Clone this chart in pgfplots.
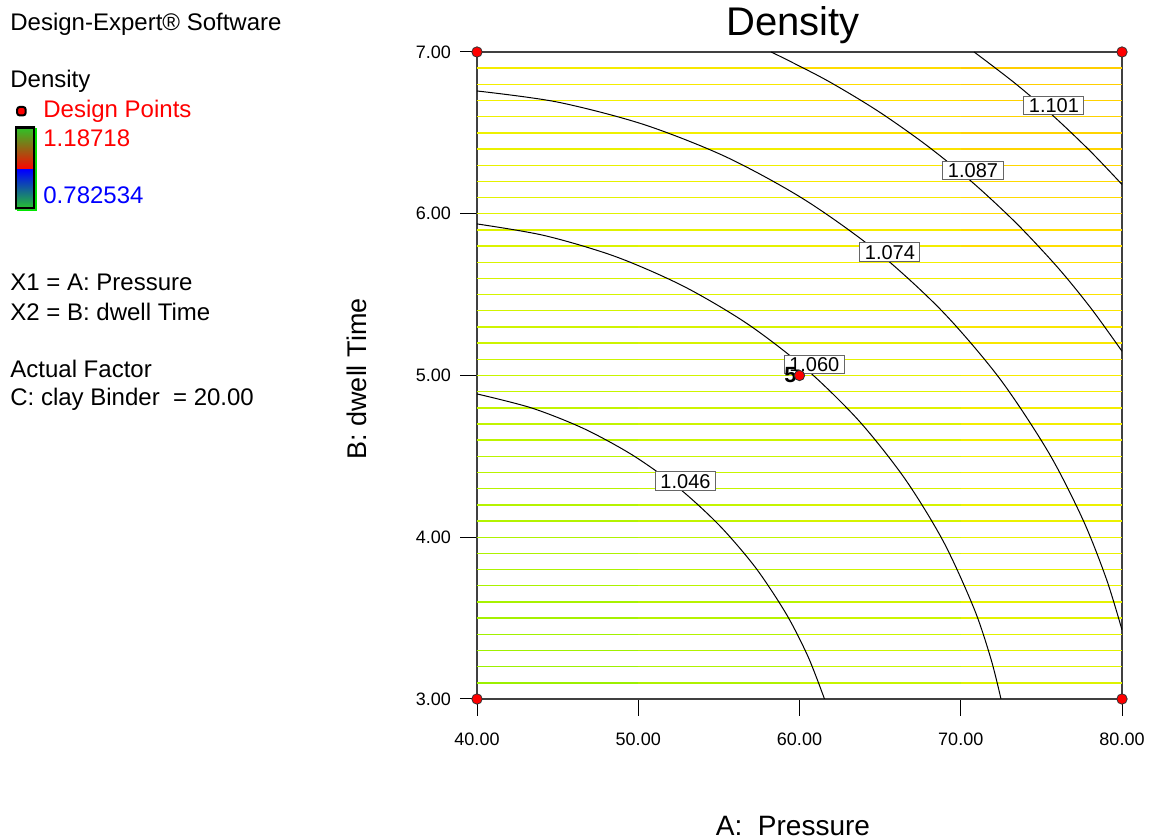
\documentclass[border=0pt]{standalone}
\usepackage{fontspec}
\setmainfont{Liberation Sans}
\usepackage{pgfplots}
\pgfplotsset{compat=1.18}
\definecolor{cbgreen}{RGB}{40,200,40}
\definecolor{cbbrown}{RGB}{150,100,10}
\definecolor{cbteal}{RGB}{0,130,150}
\definecolor{cbshadow}{RGB}{0,230,0}
\tikzset{lbl/.style={draw=black!60, fill=white, line width=0.5pt, font=\fontsize{10}{12}\selectfont, inner xsep=2.5pt, inner ysep=1pt, text height=7.3pt, text depth=0pt}}
\newcommand\hl[6]{\addplot[hl] coordinates {(40,#1)[#2] (50,#1)[#3] (60,#1)[#4] (70,#1)[#5] (80,#1)[#6]};}
\begin{document}
\begin{tikzpicture}
\useasboundingbox (0,0) rectangle (575.5pt,419.5pt);
\begin{axis}[
  at={(238.5pt,70pt)}, anchor=south west,
  scale only axis, width=322.5pt, height=323.5pt,
  xmin=40, xmax=80, ymin=3, ymax=7,
  xtick={40,50,60,70,80}, ytick={3,4,5,6,7},
  tick align=outside, xtick pos=bottom, ytick pos=left,
  major tick length=8.5pt,
  tick style={black, line width=0.5pt},
  axis line style={black!75, line width=0.6pt},
  /pgf/number format/fixed, /pgf/number format/zerofill,
  /pgf/number format/precision=2, /pgf/number format/assume math mode=true,
  ticklabel style={font=\fontsize{9}{10}\selectfont},
  yticklabel style={xshift=-1pt},
  xticklabel style={yshift=-5pt},
  colormap={dens}{rgb255(0pt)=(140,235,0); rgb255(5pt)=(150,240,0); rgb255(30pt)=(200,245,0); rgb255(55pt)=(242,240,0); rgb255(70pt)=(255,222,0); rgb255(95pt)=(255,195,0)},
  point meta min=1.02, point meta max=1.115,
  hl/.style={mesh, point meta=explicit, line width=0.7pt, forget plot},
  ct/.style={black, line width=0.5pt, smooth, forget plot},
]
\hl{3.1}{1.025}{1.030}{1.044}{1.053}{1.071}
\hl{3.2}{1.026}{1.031}{1.045}{1.054}{1.072}
\hl{3.3}{1.027}{1.032}{1.046}{1.055}{1.073}
\hl{3.4}{1.028}{1.033}{1.046}{1.056}{1.074}
\hl{3.5}{1.030}{1.035}{1.047}{1.057}{1.074}
\hl{3.6}{1.031}{1.036}{1.048}{1.058}{1.075}
\hl{3.7}{1.032}{1.037}{1.049}{1.059}{1.076}
\hl{3.8}{1.033}{1.038}{1.050}{1.060}{1.077}
\hl{3.9}{1.034}{1.039}{1.050}{1.061}{1.078}
\hl{4.0}{1.035}{1.040}{1.051}{1.062}{1.079}
\hl{4.1}{1.037}{1.042}{1.052}{1.063}{1.079}
\hl{4.2}{1.038}{1.043}{1.053}{1.064}{1.080}
\hl{4.3}{1.039}{1.044}{1.053}{1.065}{1.081}
\hl{4.4}{1.040}{1.045}{1.054}{1.066}{1.082}
\hl{4.5}{1.041}{1.046}{1.055}{1.067}{1.083}
\hl{4.6}{1.042}{1.047}{1.056}{1.068}{1.084}
\hl{4.7}{1.044}{1.049}{1.057}{1.069}{1.084}
\hl{4.8}{1.045}{1.050}{1.057}{1.070}{1.085}
\hl{4.9}{1.046}{1.051}{1.058}{1.071}{1.086}
\hl{5.0}{1.047}{1.052}{1.059}{1.072}{1.087}
\hl{5.1}{1.049}{1.053}{1.060}{1.073}{1.088}
\hl{5.2}{1.050}{1.055}{1.062}{1.075}{1.090}
\hl{5.3}{1.052}{1.056}{1.063}{1.076}{1.091}
\hl{5.4}{1.053}{1.058}{1.065}{1.077}{1.092}
\hl{5.5}{1.055}{1.059}{1.066}{1.079}{1.093}
\hl{5.6}{1.056}{1.061}{1.068}{1.080}{1.095}
\hl{5.7}{1.058}{1.062}{1.069}{1.082}{1.096}
\hl{5.8}{1.060}{1.063}{1.070}{1.083}{1.097}
\hl{5.9}{1.061}{1.065}{1.072}{1.084}{1.098}
\hl{6.0}{1.063}{1.066}{1.073}{1.086}{1.100}
\hl{6.1}{1.064}{1.068}{1.075}{1.087}{1.101}
\hl{6.2}{1.066}{1.069}{1.076}{1.088}{1.102}
\hl{6.3}{1.068}{1.070}{1.077}{1.090}{1.103}
\hl{6.4}{1.069}{1.072}{1.079}{1.091}{1.105}
\hl{6.5}{1.071}{1.073}{1.080}{1.093}{1.106}
\hl{6.6}{1.072}{1.075}{1.082}{1.094}{1.107}
\hl{6.7}{1.074}{1.076}{1.083}{1.095}{1.108}
\hl{6.8}{1.075}{1.078}{1.085}{1.097}{1.110}
\hl{6.9}{1.077}{1.079}{1.086}{1.098}{1.111}
% contours
\addplot[ct] coordinates {(40,4.886) (43.391,4.799) (46.614,4.672) (49.658,4.507) (52.478,4.307) (55.033,4.073) (57.283,3.811) (59.194,3.523) (60.543,3.259) (61.550,3.0)};
\addplot[ct] coordinates {(40,5.937) (44.192,5.865) (48.594,5.735) (52.803,5.552) (56.759,5.320) (60.401,5.041) (63.676,4.721) (66.533,4.362) (68.932,3.972) (70.836,3.556) (71.877,3.246) (72.496,3.0)};
\addplot[ct] coordinates {(40,6.759) (44.962,6.691) (50.301,6.553) (55.432,6.352) (60.278,6.089) (64.768,5.770) (68.834,5.399) (72.415,4.981) (75.459,4.522) (77.606,4.102) (79.049,3.737) (80,3.427)};
\addplot[ct] coordinates {(58.250,7.0) (61.597,6.830) (64.798,6.639) (67.857,6.425) (70.759,6.191) (73.490,5.937) (76.037,5.665) (78.104,5.412) (80,5.150)};
\addplot[ct] coordinates {(70.830,7.0) (73.359,6.807) (75.745,6.604) (78.020,6.388) (80,6.181)};
\node[lbl] at (axis cs:75.78,6.669) {1.101};
\node[lbl] at (axis cs:70.76,6.267) {1.087};
\node[lbl] at (axis cs:65.61,5.764) {1.074};
\node[lbl] at (axis cs:60.92,5.067) {1.060};
\node[lbl] at (axis cs:52.93,4.348) {1.046};
% design points
\addplot[only marks, mark=*, mark size=2.6pt, mark options={fill=red, draw=black!80, line width=0.4pt}] coordinates {(40,3) (40,7) (80,3) (80,7) (60,5)};
\node[anchor=base east, font=\bfseries\fontsize{11}{12}\selectfont, inner sep=0pt, xshift=-1.3pt, yshift=-3.4pt] at (axis cs:60,5) {5};
\end{axis}
% left panel
\node[anchor=base west, font=\fontsize{12}{14}\selectfont, inner sep=0pt] at (5pt,404.25pt) {Design-Expert® Software};
\node[anchor=base west, font=\fontsize{12}{14}\selectfont, inner sep=0pt] at (5pt,375.5pt) {Density};
\draw[fill=red, draw=black, line width=1pt, rounded corners=1.2pt] (8.6pt,361.8pt) rectangle (12.8pt,366pt);
\node[anchor=base west, font=\fontsize{12}{14}\selectfont, inner sep=0pt, text=red] at (21.5pt,360.8pt) {Design Points};
\fill[cbshadow] (8.5pt,314pt) rectangle (18.5pt,355.5pt);
\shade[top color=cbgreen, middle color=cbbrown, bottom color=red] (7.5pt,334.5pt) rectangle (17.5pt,356.2pt);
\shade[top color=blue, middle color=cbteal, bottom color=cbgreen] (7.5pt,314.8pt) rectangle (17.5pt,334.5pt);
\draw[black, line width=1.1pt] (8pt,315.3pt) rectangle (17pt,355.7pt);
\node[anchor=base west, font=\fontsize{12}{14}\selectfont, inner sep=0pt, text=red] at (21.5pt,346.1pt) {1.18718};
\node[anchor=base west, font=\fontsize{12}{14}\selectfont, inner sep=0pt, text=blue] at (21.5pt,317.5pt) {0.782534};
\node[anchor=base west, font=\fontsize{12}{14}\selectfont, inner sep=0pt] at (5pt,274.25pt) {X1 = A: Pressure};
\node[anchor=base west, font=\fontsize{12}{14}\selectfont, inner sep=0pt] at (5pt,259.25pt) {X2 = B: dwell Time};
\node[anchor=base west, font=\fontsize{12}{14}\selectfont, inner sep=0pt] at (5pt,230.75pt) {Actual Factor};
\node[anchor=base west, font=\fontsize{12}{14}\selectfont, inner sep=0pt] at (5pt,216.75pt) {C: clay Binder\ \ = 20.00};
% titles
\node[anchor=base, font=\fontsize{20}{24}\selectfont, inner sep=0pt] at (396.5pt,401.5pt) {Density};
\node[anchor=base, font=\fontsize{14}{16}\selectfont, inner sep=0pt] at (396.5pt,1.5pt) {A:\ \ Pressure};
\node[rotate=90, anchor=base, font=\fontsize{13.5}{16}\selectfont, inner sep=0pt] at (183.3pt,230pt) {B: dwell Time};
\end{tikzpicture}
\end{document}
